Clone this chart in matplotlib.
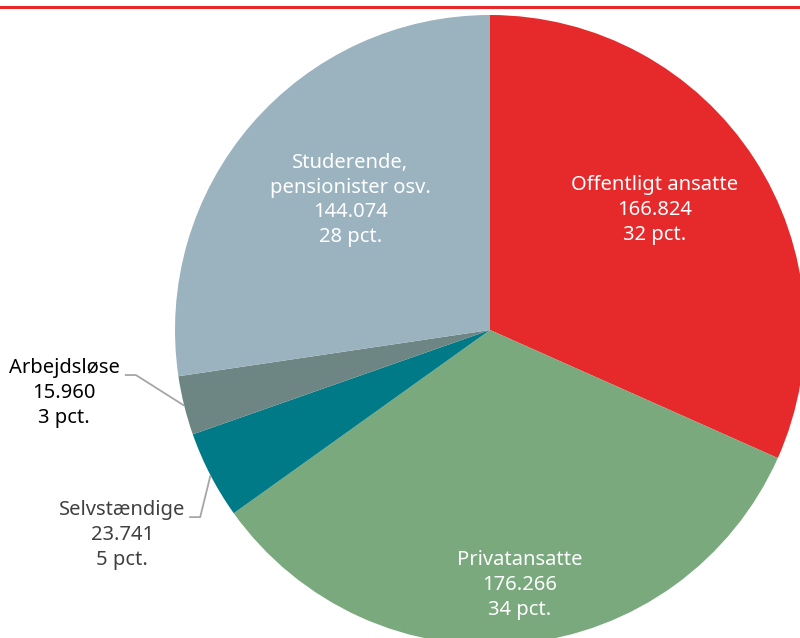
# -*- coding: utf-8 -*-
import numpy as np
import matplotlib.pyplot as plt
from matplotlib.lines import Line2D

# Data
categories = ['Offentligt ansatte', 'Privatansatte', 'Selvstændige', 'Arbejdsløse',
              'Studerende,\npensionister osv.']
values = [166824, 176266, 23741, 15960, 144074]
pct_labels = ['32 pct.', '34 pct.', '5 pct.', '3 pct.', '28 pct.']
colors = ['#E6292B', '#79A97C', '#007A87', '#6D8583', '#9AB3BF']

# Layout (label centres in pie radius units, centre of pie at 0,0)
text_pos = [(0.524, 0.381), (0.095, -0.810), (-1.168, -0.651), (-1.352, -0.200), (-0.444, 0.413)]
text_col = ['white', 'white', '#404040', 'black', 'white']
elbow = [None, None, (-0.920, -0.594), (-1.124, -0.143), None]
font_size = 14.5

fig = plt.figure(figsize=(8.0, 6.38), dpi=100)
ax = fig.add_axes([0, 0, 1, 1])

wedges, _ = ax.pie(values, colors=colors, startangle=90, counterclock=False,
                   radius=1.0, center=(0, 0), frame=True)
ax.set_xlim(-490 / 315, 310 / 315)
ax.set_ylim(-308 / 315, 330 / 315)
ax.set_aspect('auto')
ax.axis('off')

for i, w in enumerate(wedges):
    s = '{0}\n{1}\n{2}'.format(categories[i], format(values[i], ',').replace(',', '.'), pct_labels[i])
    ax.text(text_pos[i][0], text_pos[i][1], s, ha='center', va='center', color=text_col[i],
            fontsize=font_size, family=['Noto Sans', 'DejaVu Sans'], linespacing=1.32)
    if elbow[i] is not None:
        mid = np.deg2rad((w.theta1 + w.theta2) / 2)
        ex, ey = np.cos(mid), np.sin(mid)
        x0 = elbow[i][0] - 0.035
        ax.plot([x0, elbow[i][0], ex], [elbow[i][1], elbow[i][1], ey], color='#A6A6A6', lw=1.3,
                solid_capstyle='butt')

# Red line on top
fig.add_artist(Line2D([0, 1], [1 - 7 / 638, 1 - 7 / 638], color='#E6292B', lw=2.2,
                      transform=fig.transFigure))

plt.savefig('out.png', dpi=100)
